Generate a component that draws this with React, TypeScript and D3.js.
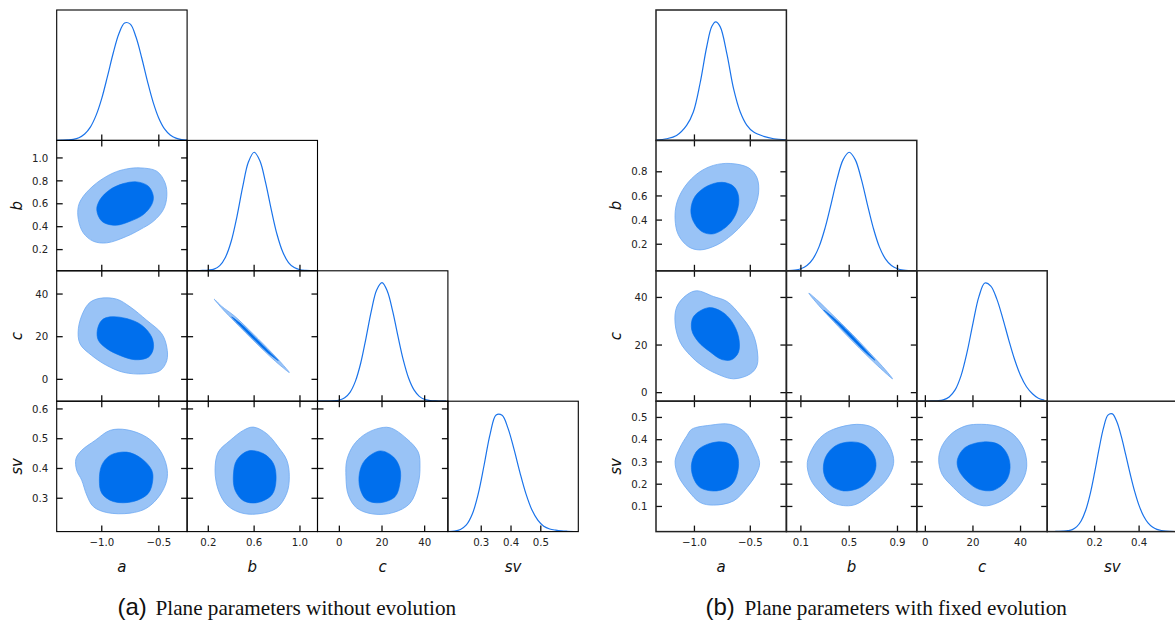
import React from 'react';
import * as d3 from 'd3';

type Pt = [number, number];

const P = 130.4;

// ---------- Left figure: without evolution ----------
const leftNames = ['a', 'b', 'c', 'sv'];
const leftRanges: [number, number][] = [[-1.395, -0.252], [0.015, 1.153], [-10.25, 50.9], [0.188, 0.626]];
const leftXTicks = [[-1.0, -0.5], [0.2, 0.6, 1.0], [0, 20, 40], [0.3, 0.4, 0.5]];
const leftYTicks = [[], [0.2, 0.4, 0.6, 0.8, 1.0], [0, 20, 40], [0.3, 0.4, 0.5, 0.6]];

const leftA_x = [-1.40, -1.35, -1.30, -1.25, -1.20, -1.15, -1.10, -1.05, -1.00, -0.95, -0.90, -0.85, -0.80, -0.75, -0.70, -0.65, -0.60, -0.55, -0.50, -0.45, -0.40, -0.35, -0.30, -0.25];
const leftA_y = [0.001, 0.002, 0.004, 0.009, 0.023, 0.054, 0.112, 0.211, 0.355, 0.54, 0.735, 0.9, 0.991, 0.981, 0.872, 0.697, 0.5, 0.323, 0.187, 0.097, 0.046, 0.019, 0.007, 0.003];
const leftB_x = [0.05, 0.10, 0.15, 0.20, 0.25, 0.30, 0.35, 0.40, 0.45, 0.50, 0.55, 0.60, 0.65, 0.70, 0.75, 0.80, 0.85, 0.90, 0.95, 1.00, 1.05, 1.10, 1.15];
const leftB_y = [0, 0.001, 0.003, 0.006, 0.014, 0.044, 0.115, 0.249, 0.458, 0.707, 0.917, 1.0, 0.929, 0.744, 0.514, 0.306, 0.158, 0.070, 0.027, 0.009, 0.003, 0.001, 0];
const leftC_x = [-10, -5, -2.5, 0, 2.5, 5, 7.5, 10, 12.5, 15, 17.5, 20, 22.5, 25, 27.5, 30, 32.5, 35, 37.5, 40, 42.5, 45, 47.5, 50];
const leftC_y = [0, 0.001, 0.003, 0.01, 0.029, 0.075, 0.167, 0.32, 0.533, 0.762, 0.939, 1.0, 0.928, 0.759, 0.546, 0.346, 0.193, 0.095, 0.041, 0.015, 0.006, 0.002, 0.001, 0];
const leftSV_x = [0.19, 0.21, 0.23, 0.25, 0.27, 0.29, 0.31, 0.33, 0.35, 0.37, 0.39, 0.41, 0.43, 0.45, 0.47, 0.49, 0.51, 0.53, 0.55, 0.57, 0.59, 0.61];
const leftSV_y = [0.001, 0.0045, 0.018, 0.056, 0.148, 0.32, 0.566, 0.824, 0.984, 0.981, 0.871, 0.695, 0.498, 0.32, 0.184, 0.097, 0.045, 0.022, 0.012, 0.006, 0.003, 0.001];

const L_ab_outer: Pt[] = [[-0.664, 0.913], [-0.518, 0.884], [-0.445, 0.782], [-0.430, 0.665], [-0.460, 0.549], [-0.548, 0.447], [-0.664, 0.375], [-0.781, 0.316], [-0.956, 0.259], [-1.074, 0.273], [-1.162, 0.346], [-1.205, 0.462], [-1.205, 0.578], [-1.162, 0.665], [-1.044, 0.782], [-0.899, 0.869], [-0.781, 0.904]];
const L_ab_inner: Pt[] = [[-0.693, 0.791], [-0.591, 0.753], [-0.548, 0.665], [-0.562, 0.593], [-0.635, 0.506], [-0.752, 0.447], [-0.884, 0.412], [-0.999, 0.447], [-1.044, 0.549], [-1.015, 0.637], [-0.927, 0.724], [-0.811, 0.776]];
const L_ac_outer: Pt[] = [[-1.015, 38.0], [-0.869, 37.6], [-0.752, 34.0], [-0.606, 27.7], [-0.474, 21.4], [-0.430, 15.1], [-0.430, 8.8], [-0.489, 4.1], [-0.635, 2.55], [-0.811, 3.3], [-0.956, 6.5], [-1.088, 11.2], [-1.191, 16.7], [-1.205, 23.8], [-1.162, 31.6], [-1.103, 36.1]];
const L_ac_inner: Pt[] = [[-0.927, 29.3], [-0.781, 28.5], [-0.650, 25.4], [-0.562, 19.8], [-0.548, 14.4], [-0.591, 10.4], [-0.708, 9.2], [-0.840, 11.2], [-0.956, 14.4], [-1.030, 18.3], [-1.039, 23.0], [-1.000, 27.7]];
const L_asv_outer: Pt[] = [[-0.927, 0.528], [-0.781, 0.530], [-0.606, 0.505], [-0.489, 0.461], [-0.430, 0.405], [-0.430, 0.361], [-0.489, 0.311], [-0.606, 0.267], [-0.752, 0.250], [-0.956, 0.252], [-1.074, 0.272], [-1.132, 0.311], [-1.176, 0.361], [-1.220, 0.394], [-1.226, 0.433], [-1.176, 0.461], [-1.059, 0.494]];
const L_asv_inner: Pt[] = [[-0.927, 0.444], [-0.781, 0.455], [-0.650, 0.433], [-0.562, 0.394], [-0.553, 0.361], [-0.591, 0.317], [-0.723, 0.289], [-0.899, 0.289], [-1.000, 0.317], [-1.021, 0.361], [-1.000, 0.411]];
const L_bc_outer: Pt[] = [[0.252, 37.6], [0.318, 34.2], [0.428, 29.7], [0.594, 21.2], [0.756, 12.4], [0.849, 7.0], [0.907, 3.2], [0.835, 6.2], [0.732, 11.1], [0.566, 19.7], [0.404, 28.5], [0.311, 33.8]];
const L_bc_inner: Pt[] = [[0.404, 29.3], [0.487, 25.9], [0.619, 19.0], [0.729, 13.1], [0.811, 8.8], [0.719, 12.5], [0.606, 18.3], [0.476, 25.3]];
const L_bsv_outer: Pt[] = [[0.593, 0.539], [0.710, 0.517], [0.811, 0.472], [0.885, 0.428], [0.907, 0.372], [0.885, 0.317], [0.797, 0.267], [0.623, 0.247], [0.477, 0.252], [0.361, 0.278], [0.287, 0.328], [0.259, 0.394], [0.287, 0.455], [0.390, 0.494], [0.506, 0.528]];
const L_bsv_inner: Pt[] = [[0.549, 0.459], [0.680, 0.450], [0.768, 0.417], [0.791, 0.361], [0.754, 0.311], [0.623, 0.285], [0.506, 0.292], [0.433, 0.328], [0.419, 0.378], [0.448, 0.428]];
const L_csv_outer: Pt[] = [[17.5, 0.533], [23.7, 0.537], [31.6, 0.500], [37.0, 0.455], [37.8, 0.405], [37.0, 0.350], [33.1, 0.283], [25.3, 0.252], [15.9, 0.247], [8.2, 0.267], [4.2, 0.311], [3.1, 0.372], [3.5, 0.428], [6.6, 0.478], [11.2, 0.511]];
const L_csv_inner: Pt[] = [[19.1, 0.459], [25.3, 0.439], [28.4, 0.400], [28.4, 0.350], [26.1, 0.305], [19.1, 0.285], [12.8, 0.294], [9.7, 0.333], [9.4, 0.383], [12.0, 0.428]];

// ---------- Right figure: fixed evolution ----------
const rightNames = ['a', 'b', 'c', 'sv'];
const rightRanges: [number, number][] = [[-1.344, -0.177], [-0.02, 1.06], [-3.6, 51.2], [-0.013, 0.573]];
const rightXTicks = [[-1.0, -0.5], [0.1, 0.5, 0.9], [0, 20, 40], [0.2, 0.4]];
const rightYTicks = [[], [0.2, 0.4, 0.6, 0.8], [0, 20, 40], [0.1, 0.2, 0.3, 0.4, 0.5]];

const rightA_x = [-1.34, -1.25, -1.16, -1.07, -1.01, -0.95, -0.89, -0.845, -0.81, -0.77, -0.71, -0.65, -0.59, -0.53, -0.47, -0.38, -0.29, -0.18];
const rightA_y = [0.003, 0.014, 0.042, 0.127, 0.24, 0.48, 0.79, 0.96, 1.0, 0.96, 0.733, 0.437, 0.24, 0.127, 0.07, 0.034, 0.014, 0.005];
const rightB_x = [0, 0.05, 0.10, 0.15, 0.20, 0.25, 0.30, 0.35, 0.40, 0.45, 0.50, 0.55, 0.60, 0.65, 0.70, 0.75, 0.80, 0.85, 0.90, 0.95, 1.00, 1.05];
const rightB_y = [0.002, 0.006, 0.017, 0.044, 0.101, 0.202, 0.36, 0.563, 0.775, 0.938, 1.0, 0.938, 0.775, 0.563, 0.36, 0.202, 0.101, 0.044, 0.017, 0.006, 0.002, 0];
const rightC_x = [-2.5, 0, 2.5, 5, 7.5, 10, 12.5, 15, 17.5, 20, 22.5, 25, 27.5, 30, 32.5, 35, 37.5, 40, 42.5, 45, 47.5, 50];
const rightC_y = [0, 0.001, 0.002, 0.004, 0.011, 0.036, 0.095, 0.216, 0.411, 0.657, 0.882, 0.997, 0.971, 0.863, 0.701, 0.52, 0.352, 0.217, 0.122, 0.063, 0.025, 0.01];
const rightSV_x = [0, 0.02, 0.04, 0.06, 0.08, 0.10, 0.12, 0.14, 0.16, 0.18, 0.20, 0.22, 0.24, 0.26, 0.28, 0.30, 0.32, 0.34, 0.36, 0.38, 0.40, 0.42, 0.44, 0.46, 0.48, 0.50, 0.52, 0.54, 0.56];
const rightSV_y = [0, 0.001, 0.002, 0.004, 0.008, 0.017, 0.042, 0.092, 0.18, 0.316, 0.497, 0.697, 0.875, 0.983, 0.993, 0.926, 0.803, 0.647, 0.486, 0.339, 0.219, 0.132, 0.074, 0.039, 0.019, 0.009, 0.004, 0.002, 0.001];

const R_ab_outer: Pt[] = [[-0.680, 0.869], [-0.515, 0.833], [-0.440, 0.750], [-0.426, 0.625], [-0.471, 0.486], [-0.560, 0.375], [-0.665, 0.278], [-0.799, 0.194], [-0.949, 0.153], [-1.054, 0.180], [-1.144, 0.278], [-1.173, 0.403], [-1.158, 0.542], [-1.084, 0.680], [-0.964, 0.792], [-0.830, 0.853]];
const R_ab_inner: Pt[] = [[-0.754, 0.713], [-0.650, 0.680], [-0.605, 0.597], [-0.620, 0.472], [-0.695, 0.361], [-0.830, 0.286], [-0.934, 0.305], [-1.009, 0.388], [-1.032, 0.486], [-0.994, 0.597], [-0.889, 0.680]];
const R_ac_outer: Pt[] = [[-0.979, 42.8], [-0.830, 40.4], [-0.709, 38.3], [-0.590, 32.6], [-0.485, 25.6], [-0.440, 18.5], [-0.440, 11.4], [-0.500, 7.9], [-0.650, 5.8], [-0.799, 7.9], [-0.934, 11.4], [-1.039, 15.7], [-1.129, 21.3], [-1.173, 29.1], [-1.158, 36.1], [-1.068, 41.1]];
const R_ac_inner: Pt[] = [[-0.875, 35.7], [-0.754, 34.0], [-0.664, 29.8], [-0.605, 23.4], [-0.605, 17.1], [-0.664, 13.9], [-0.754, 13.9], [-0.859, 17.1], [-0.964, 21.3], [-1.024, 26.3], [-1.009, 31.9]];
const R_asv_outer: Pt[] = [[-1.024, 0.447], [-0.859, 0.465], [-0.680, 0.469], [-0.545, 0.432], [-0.471, 0.372], [-0.417, 0.297], [-0.440, 0.252], [-0.530, 0.185], [-0.650, 0.125], [-0.830, 0.106], [-0.949, 0.118], [-1.054, 0.170], [-1.144, 0.237], [-1.173, 0.304], [-1.129, 0.365], [-1.068, 0.417]];
const R_asv_inner: Pt[] = [[-0.799, 0.390], [-0.680, 0.379], [-0.614, 0.327], [-0.611, 0.260], [-0.664, 0.200], [-0.799, 0.170], [-0.949, 0.185], [-1.015, 0.237], [-1.024, 0.297], [-0.964, 0.357]];
const R_bc_outer: Pt[] = [[0.166, 41.8], [0.242, 38.6], [0.350, 33.3], [0.526, 24.5], [0.697, 15.3], [0.798, 9.7], [0.859, 5.8], [0.783, 9.1], [0.675, 14.2], [0.499, 23.1], [0.328, 32.2], [0.227, 37.9]];
const R_bc_inner: Pt[] = [[0.289, 34.7], [0.414, 29.5], [0.520, 24.2], [0.642, 17.6], [0.714, 13.6], [0.632, 17.1], [0.505, 23.5], [0.402, 28.9]];
const R_bsv_outer: Pt[] = [[0.371, 0.447], [0.563, 0.469], [0.700, 0.454], [0.810, 0.394], [0.864, 0.327], [0.864, 0.282], [0.810, 0.222], [0.700, 0.163], [0.535, 0.106], [0.371, 0.115], [0.262, 0.163], [0.180, 0.222], [0.153, 0.297], [0.207, 0.372], [0.276, 0.417]];
const R_bsv_inner: Pt[] = [[0.508, 0.390], [0.618, 0.379], [0.700, 0.335], [0.722, 0.282], [0.687, 0.230], [0.591, 0.185], [0.453, 0.170], [0.344, 0.196], [0.289, 0.252], [0.303, 0.320], [0.385, 0.372]];
const R_csv_outer: Pt[] = [[21.6, 0.469], [30.0, 0.461], [36.9, 0.424], [41.4, 0.357], [42.6, 0.282], [41.1, 0.222], [36.9, 0.163], [30.0, 0.115], [24.4, 0.103], [17.4, 0.133], [11.8, 0.185], [7.0, 0.245], [5.6, 0.312], [7.0, 0.372], [11.2, 0.429], [16.7, 0.461]];
const R_csv_inner: Pt[] = [[24.4, 0.390], [30.7, 0.379], [34.4, 0.335], [35.6, 0.275], [33.9, 0.215], [28.6, 0.173], [22.3, 0.178], [17.4, 0.215], [13.9, 0.267], [13.5, 0.312], [16.7, 0.365]];

const captionLeftTag = '(a)';
const captionLeftText = 'Plane parameters without evolution';
const captionRightTag = '(b)';
const captionRightText = 'Plane parameters with fixed evolution';

interface Fig {
  id: string;
  names: string[];
  ranges: [number, number][];
  xticks: number[][];
  yticks: number[][];
  diag: { x: number[]; y: number[] }[];
  pairs: Record<string, { outer: Pt[]; inner: Pt[] }>;
  spineWidth: number;
  spineColor: string;
}

const leftFig: Fig = {
  id: 'L',
  names: leftNames,
  ranges: leftRanges,
  xticks: leftXTicks,
  yticks: leftYTicks,
  diag: [
    { x: leftA_x, y: leftA_y },
    { x: leftB_x, y: leftB_y },
    { x: leftC_x, y: leftC_y },
    { x: leftSV_x, y: leftSV_y },
  ],
  pairs: {
    '1-0': { outer: L_ab_outer, inner: L_ab_inner },
    '2-0': { outer: L_ac_outer, inner: L_ac_inner },
    '3-0': { outer: L_asv_outer, inner: L_asv_inner },
    '2-1': { outer: L_bc_outer, inner: L_bc_inner },
    '3-1': { outer: L_bsv_outer, inner: L_bsv_inner },
    '3-2': { outer: L_csv_outer, inner: L_csv_inner },
  },
  spineWidth: 1.1,
  spineColor: '#000',
};

const rightFig: Fig = {
  id: 'R',
  names: rightNames,
  ranges: rightRanges,
  xticks: rightXTicks,
  yticks: rightYTicks,
  diag: [
    { x: rightA_x, y: rightA_y },
    { x: rightB_x, y: rightB_y },
    { x: rightC_x, y: rightC_y },
    { x: rightSV_x, y: rightSV_y },
  ],
  pairs: {
    '1-0': { outer: R_ab_outer, inner: R_ab_inner },
    '2-0': { outer: R_ac_outer, inner: R_ac_inner },
    '3-0': { outer: R_asv_outer, inner: R_asv_inner },
    '2-1': { outer: R_bc_outer, inner: R_bc_inner },
    '3-1': { outer: R_bsv_outer, inner: R_bsv_inner },
    '3-2': { outer: R_csv_outer, inner: R_csv_inner },
  },
  spineWidth: 1.5,
  spineColor: '#222',
};

const LINE = '#1a73ea';
const DARK = '#006fed';
const LIGHT = '#99c3f6';
const LIGHT_EDGE = '#6faaf2';
const TICK_LEN = 6;
const TICK_FONT = 'DejaVu Sans, sans-serif';

function fmt(v: number, name: string): string {
  if (name === 'c') return d3.format('d')(v);
  return d3.format('.1f')(v);
}

function Triangle({ ox, oy, fig }: { ox: number; oy: number; fig: Fig }) {
  const n = fig.names.length;
  const els: React.ReactNode[] = [];
  const defs: React.ReactNode[] = [];
  for (let i = 0; i < n; i++) {
    for (let j = 0; j <= i; j++) {
      const x0 = ox + j * P;
      const y0 = oy + i * P;
      const xs = d3.scaleLinear().domain(fig.ranges[j]).range([x0, x0 + P]);
      const key = `${fig.id}-${i}-${j}`;
      defs.push(
        <clipPath id={`clip-${key}`} key={`c${key}`}>
          <rect x={x0} y={y0} width={P} height={P} />
        </clipPath>
      );
      const g: React.ReactNode[] = [];
      if (i === j) {
        const ys = d3.scaleLinear().domain([0, 1.1]).range([y0 + P, y0]);
        const dd = fig.diag[i];
        const line = d3
          .line<number>()
          .x((_, k) => xs(dd.x[k]))
          .y((d) => ys(d))
          .curve(d3.curveCatmullRom.alpha(0.5));
        g.push(
          <path key="l" d={line(dd.y) || ''} fill="none" stroke={LINE} strokeWidth={1.2} clipPath={`url(#clip-${key})`} />
        );
      } else {
        const ys = d3.scaleLinear().domain(fig.ranges[i]).range([y0 + P, y0]);
        const pr = fig.pairs[`${i}-${j}`];
        const shape = d3
          .line<Pt>()
          .x((d) => xs(d[0]))
          .y((d) => ys(d[1]))
          .curve(d3.curveCatmullRomClosed.alpha(0.5));
        g.push(
          <g key="ct" clipPath={`url(#clip-${key})`}>
            <path d={shape(pr.outer) || ''} fill={LIGHT} stroke={LIGHT_EDGE} strokeWidth={0.8} />
            <path d={shape(pr.inner) || ''} fill={DARK} stroke={DARK} strokeWidth={0.6} />
          </g>
        );
        fig.yticks[i].forEach((t) => {
          const yy = ys(t);
          g.push(<line key={`yl${t}`} x1={x0} x2={x0 + TICK_LEN} y1={yy} y2={yy} stroke="#111" strokeWidth={1.3} />);
          g.push(<line key={`yr${t}`} x1={x0 + P - TICK_LEN} x2={x0 + P} y1={yy} y2={yy} stroke="#111" strokeWidth={1.3} />);
          if (j === 0) {
            g.push(
              <text key={`ytl${t}`} x={x0 - 8.5} y={yy} dy="0.36em" textAnchor="end" fontFamily={TICK_FONT} fontSize={10.2} fill="#222">
                {fmt(t, fig.names[i])}
              </text>
            );
          }
        });
        fig.xticks[j].forEach((t) => {
          const xx = xs(t);
          g.push(<line key={`xt${t}`} x1={xx} x2={xx} y1={y0} y2={y0 + TICK_LEN} stroke="#111" strokeWidth={1.3} />);
        });
      }
      fig.xticks[j].forEach((t) => {
        const xx = xs(t);
        g.push(<line key={`xb${t}`} x1={xx} x2={xx} y1={y0 + P - TICK_LEN} y2={y0 + P} stroke="#111" strokeWidth={1.3} />);
        if (i === n - 1) {
          g.push(
            <text key={`xtl${t}`} x={xx} y={y0 + P + 14} textAnchor="middle" fontFamily={TICK_FONT} fontSize={10.2} fill="#222">
              {fmt(t, fig.names[j])}
            </text>
          );
        }
      });
      g.push(<rect key="sp" x={x0} y={y0} width={P} height={P} fill="none" stroke={fig.spineColor} strokeWidth={fig.spineWidth} />);
      els.push(<g key={key}>{g}</g>);
    }
  }
  const labels: React.ReactNode[] = [];
  fig.names.forEach((nm, k) => {
    labels.push(
      <text key={`xl${nm}`} x={ox + k * P + P / 2} y={oy + n * P + 40} textAnchor="middle" fontFamily={TICK_FONT} fontStyle="italic" fontSize={15} fill="#111">
        {nm}
      </text>
    );
    if (k > 0) {
      const cy = oy + k * P + P / 2;
      const cx = ox - 35;
      labels.push(
        <text key={`yl${nm}`} x={cx} y={cy} transform={`rotate(-90 ${cx} ${cy})`} textAnchor="middle" fontFamily={TICK_FONT} fontStyle="italic" fontSize={15} fill="#111">
          {nm}
        </text>
      );
    }
  });
  return (
    <g>
      <defs>{defs}</defs>
      {els}
      {labels}
    </g>
  );
}

export default function App() {
  return (
    <svg width={1175} height={623} style={{ position: 'absolute', left: 0, top: 0, background: '#fff' }}>
      <rect x={0} y={0} width={1175} height={623} fill="#fff" />
      <Triangle ox={56.7} oy={10} fig={leftFig} />
      <Triangle ox={656} oy={10} fig={rightFig} />
      <text x={117.5} y={615} fill="#111" fontFamily="Liberation Sans, Arial, sans-serif" fontSize={24}>{captionLeftTag}</text>
      <text x={155.5} y={615} fill="#111" fontFamily="Liberation Serif, Times New Roman, serif" fontSize={21.2}>{captionLeftText}</text>
      <text x={705.5} y={615} fill="#111" fontFamily="Liberation Sans, Arial, sans-serif" fontSize={24}>{captionRightTag}</text>
      <text x={744.5} y={615} fill="#111" fontFamily="Liberation Serif, Times New Roman, serif" fontSize={21.2}>{captionRightText}</text>
    </svg>
  );
}
